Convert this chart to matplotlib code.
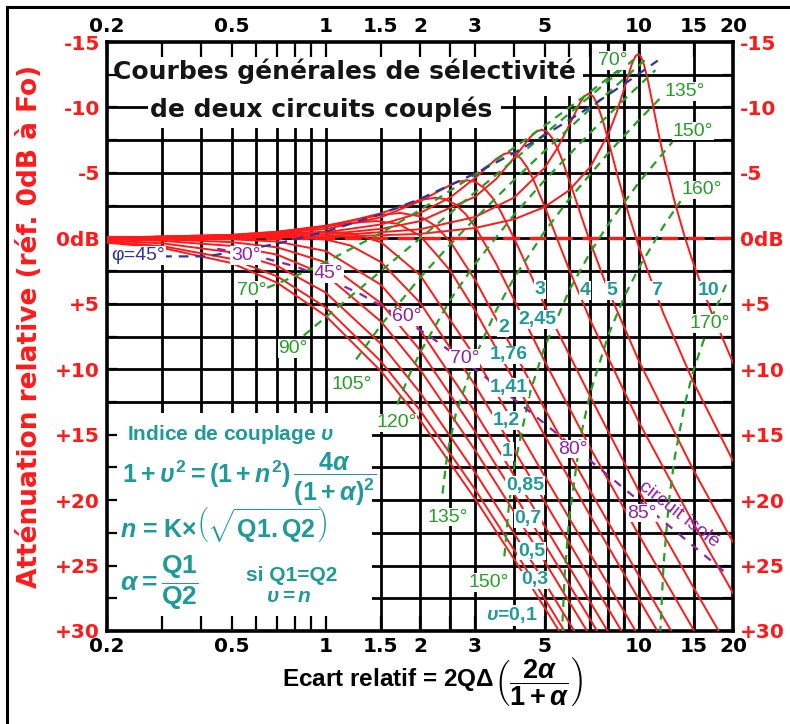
import matplotlib.pyplot as plt
import matplotlib.patches as patches
from matplotlib.lines import Line2D
from matplotlib.ticker import FixedLocator, FixedFormatter, NullFormatter

plt.rcParams['font.family'] = ['DejaVu Sans']
plt.rcParams['font.weight'] = 'bold'
plt.rcParams['lines.scale_dashes'] = False
plt.rcParams['mathtext.fontset'] = 'custom'
plt.rcParams['mathtext.rm'] = 'Liberation Sans:bold'
plt.rcParams['mathtext.it'] = 'Liberation Sans:italic:bold'
plt.rcParams['mathtext.bf'] = 'Liberation Sans:bold'
plt.rcParams['mathtext.sf'] = 'Liberation Sans:bold'

# ---- red curves : coupling index (x = ecart relatif, attenuation in dB)
x_u01 = [0.2, 0.3, 0.5, 0.7, 1, 1.5, 2, 3, 4, 5, 6]
db_u01 = [0.33, 0.73, 1.89, 3.40, 5.93, 10.14, 13.88, 19.91, 24.52, 28.21, 31.27]
x_u03 = [0.2, 0.3, 0.5, 0.7, 1, 1.5, 2, 3, 4, 5, 6]
db_u03 = [0.26, 0.59, 1.57, 2.91, 5.28, 9.40, 13.14, 19.19, 23.82, 27.52, 30.6]
x_u05 = [0.2, 0.3, 0.5, 0.7, 1, 1.5, 2, 3, 4, 5, 6, 7]
db_u05 = [0.17, 0.38, 1.07, 2.11, 4.15, 8.06, 11.78, 17.89, 22.56, 26.28, 29.37, 32.0]
x_u07 = [0.2, 0.3, 0.5, 0.7, 1, 1.5, 2, 3, 4, 5, 6, 7]
db_u07 = [0.08, 0.19, 0.58, 1.25, 2.81, 6.35, 10.02, 16.19, 20.92, 24.68, 27.79, 30.4]
x_u085 = [0.2, 0.3, 0.5, 0.7, 1, 1.5, 2, 3, 4, 5, 6, 7, 8]
db_u085 = [0.04, 0.08, 0.29, 0.69, 1.83, 4.95, 8.54, 14.77, 19.56, 23.35, 26.48, 29.13, 31.44]
x_u1 = [0.2, 0.5, 0.7, 1, 1.5, 2, 3, 4, 5, 6, 7, 8, 9]
db_u1 = [0.0, 0.07, 0.25, 0.97, 3.55, 6.99, 13.27, 18.13, 21.97, 25.12, 27.80, 30.11, 32.15]
x_u12 = [0.2, 0.5, 0.7, 1, 1.2, 1.5, 2, 3, 4, 5, 6, 7, 9, 10]
db_u12 = [-0.02, -0.12, -0.14, 0.09, 0.55, 1.81, 4.91, 11.23, 16.19, 20.10, 23.29, 25.99, 30.38, 32.2]
x_u141 = [0.2, 0.5, 0.7, 1, 1.2, 1.5, 2, 3, 4, 5, 7, 10, 12]
db_u141 = [-0.04, -0.22, -0.37, -0.50, -0.39, 0.29, 2.80, 9.07, 14.17, 18.16, 24.13, 30.41, 33.6]
x_u176 = [0.2, 0.5, 0.7, 1, 1.2, 1.45, 1.7, 2, 2.5, 3, 4, 5, 7, 10, 12]
db_u176 = [-0.04, -0.26, -0.50, -0.92, -1.17, -1.32, -1.11, -0.21, 2.47, 5.53, 10.88, 15.05, 21.20, 27.57, 30.79]
x_u2 = [0.2, 0.5, 0.7, 1, 1.3, 1.5, 1.73, 2, 2.25, 2.5, 3, 4, 5, 7, 10, 13]
db_u2 = [-0.04, -0.26, -0.50, -0.97, -1.50, -1.79, -1.94, -1.68, -0.92, 0.26, 3.18, 8.69, 13.01, 19.31, 25.76, 30.42]
x_u245 = [0.2, 0.5, 0.7, 1, 1.5, 2, 2.24, 2.4, 2.6, 2.8, 3, 3.5, 4, 5, 7, 10, 15, 16]
db_u245 = [-0.04, -0.22, -0.43, -0.88, -1.91, -2.93, -3.10, -3.00, -2.58, -1.84, -0.89, 1.93, 4.71, 9.37, 16.02, 22.66, 29.95, 31.1]
x_u3 = [0.2, 0.5, 1, 1.5, 2, 2.5, 2.65, 2.83, 3.0, 3.2, 3.4, 3.6, 4, 4.5, 5, 7, 10, 15, 18]
db_u3 = [-0.03, -0.17, -0.71, -1.61, -2.84, -4.07, -4.32, -4.44, -4.32, -3.86, -3.13, -2.17, 0.0, 2.70, 5.12, 12.09, 19.29, 26.73, 30.0]
x_u4 = [0.2, 0.5, 1, 1.5, 2, 2.5, 3, 3.5, 3.7, 3.87, 4.05, 4.2, 4.4, 4.6, 5, 5.5, 6, 7, 10, 15, 20]
db_u4 = [-0.02, -0.11, -0.46, -1.06, -1.94, -3.13, -4.61, -6.06, -6.43, -6.55, -6.41, -6.10, -5.42, -4.52, -2.46, 0.11, 2.42, 6.26, 14.02, 21.84, 27.1]
x_u5 = [0.2, 0.5, 1, 1.5, 2, 3, 3.5, 4, 4.5, 4.7, 4.9, 5.1, 5.3, 5.5, 5.7, 6.2, 6.6, 7, 8, 10, 15, 20]
db_u5 = [-0.01, -0.08, -0.31, -0.72, -1.31, -3.18, -4.53, -6.16, -7.73, -8.14, -8.30, -8.13, -7.63, -6.87, -5.95, -3.40, -1.46, 0.30, 4.01, 9.35, 17.77, 23.21]
x_u7 = [0.2, 0.5, 1, 2, 3, 4, 5, 5.5, 6, 6.5, 6.7, 6.93, 7.15, 7.4, 7.7, 8, 8.5, 9, 10, 12, 15, 20]
db_u7 = [-0.01, -0.04, -0.17, -0.69, -1.63, -3.12, -5.38, -6.90, -8.66, -10.38, -10.85, -11.06, -10.85, -10.15, -8.88, -7.43, -5.04, -2.89, 0.64, 5.76, 11.07, 17.0]
x_u10 = [0.2, 1, 2, 3, 4, 5, 6, 7, 8, 8.5, 9, 9.5, 9.75, 9.95, 10.15, 10.4, 10.7, 11, 11.5, 12, 13, 14, 15, 17, 20]
db_u10 = [0.0, -0.09, -0.34, -0.79, -1.46, -2.39, -3.68, -5.46, -7.99, -9.62, -11.49, -13.31, -13.90, -14.07, -13.90, -13.24, -12.03, -10.62, -8.30, -6.24, -2.85, -0.17, 2.03, 5.54, 9.50]

u_labels = [r'$\upsilon$=0,1', '0,3', '0,5', '0,7', '0,85', '1', '1,2', '1,41', '1,76', '2',
            '2,45', '3', '4', '5', '7', '10']
u_label_x = [3.92, 4.66, 4.55, 4.43, 4.33, 3.81, 3.78, 3.85, 3.85, 3.69, 4.74, 4.83, 6.73, 8.19, 11.4, 16.7]
u_label_db = [28.8, 26.1, 23.9, 21.4, 18.9, 16.3, 13.9, 11.4, 8.9, 6.8, 6.2, 3.9, 4.0, 4.0, 4.0, 4.0]

# ---- green dashed curves : constant phase of the coupled pair
x_g70 = [0.65, 0.8, 1, 1.5, 2, 3, 4, 5, 6, 7, 8, 8.8]
db_g70 = [3.78, 2.88, 1.81, -0.40, -2.16, -4.87, -6.93, -8.60, -10.00, -11.20, -12.26, -13.02]
x_g90 = [0.85, 1, 1.5, 2, 3, 4, 5, 6, 7, 8, 9.6]
db_g90 = [7.43, 6.02, 2.50, 0.0, -3.52, -6.02, -7.96, -9.54, -10.88, -12.04, -13.63]
x_g105 = [1.25, 1.5, 2, 2.5, 3, 4, 5, 6, 7, 8, 10.5]
db_g105 = [9.25, 6.64, 3.01, 0.46, -1.51, -4.47, -6.67, -8.43, -9.89, -11.14, -13.65]
x_g120 = [1.69, 1.85, 2, 2.5, 3, 4, 5, 7, 9, 11.3]
db_g120 = [12.7, 10.43, 8.73, 4.69, 1.95, -1.81, -4.43, -8.07, -10.62, -12.85]
x_g135 = [2.36, 2.45, 2.6, 3, 3.5, 4, 5, 6, 8, 10, 12]
db_g135 = [19.5, 16.3, 13.47, 9.03, 5.51, 3.01, -0.51, -3.01, -6.53, -9.03, -10.97]
x_g150 = [3.72, 3.85, 4, 4.5, 5, 6, 7, 8, 10, 12.8]
db_g150 = [24.3, 20.31, 17.46, 11.73, 8.31, 3.96, 1.07, -1.09, -4.26, -7.36]
x_g160 = [5.65, 5.8, 6, 6.5, 7, 8, 9, 10, 12, 13.6]
db_g160 = [31.5, 25.63, 21.26, 15.29, 11.78, 7.36, 4.44, 2.26, -0.93, -2.84]
x_g170 = [11.7, 12, 12.5, 13, 14, 15, 17, 19]
db_g170 = [30.24, 24.91, 19.98, 16.86, 12.75, 9.97, 6.18, 3.55]

g_labels = ['70°', '90°', '105°', '120°', '135°', '150°', '170°', '70°', '135°', '150°', '160°']
g_label_x = [0.58, 0.787, 1.21, 1.68, 2.45, 3.32, 16.8, 8.23, 14.06, 14.9, 15.9]
g_label_db = [4.0, 8.4, 11.2, 14.1, 21.3, 26.3, 6.5, -13.6, -11.2, -8.2, -3.7]

# ---- blue dashed curve : phi = 45 deg for the coupled pair
x_phi45 = [0.3, 0.414, 0.5, 0.7, 1, 1.5, 2, 3, 4, 5, 7, 9, 11.5]
db_phi45 = [1.38, 1.38, 1.07, 0.40, -0.51, -1.85, -3.01, -4.95, -6.53, -7.87, -10.05, -11.80, -13.58]

# ---- purple dashed curve : single circuit ("circuit isole")
x_iso = [0.45, 0.6, 0.8, 1, 1.3, 1.7, 2.2, 3, 4, 5, 6.5, 8, 10, 12.5, 15, 19.5]
db_iso = [0.80, 1.34, 2.15, 3.01, 4.30, 5.90, 7.66, 10.0, 12.30, 14.15, 16.36, 18.13, 20.04, 21.97, 23.54, 25.81]
iso_labels = ['30°', '45°', '60°', '70°', '80°', '85°']
iso_label_x = [0.555, 1.02, 1.81, 2.78, 6.18, 10.2]
iso_label_db = [1.3, 2.7, 6.0, 9.2, 16.1, 21.0]

# ---- axes ticks
x_ticks = [0.2, 0.5, 1, 1.5, 2, 3, 5, 10, 15, 20]
x_ticklabels = ['0.2', '0.5', '1', '1.5', '2', '3', '5', '10', '15', '20']
x_minor = [0.3, 0.4, 0.6, 0.7, 0.8, 0.9, 2.5, 4, 6, 7, 8, 9]
y_ticks = [-15, -10, -5, 0, 5, 10, 15, 20, 25, 30]
y_ticklabels = ['-15', '-10', '-5', '0dB', '+5', '+10', '+15', '+20', '+25', '+30']
y_minor = [-12.5, -7.5, -2.5, 2.5, 7.5, 12.5, 17.5, 22.5, 27.5]

RED = '#ff1a1a'
TEAL = '#1f9a9a'
GREEN = '#25a025'
PURPLE = '#9022a8'
BLUE = '#33339a'

fig = plt.figure(figsize=(7.9, 7.24), dpi=100)
ax = fig.add_axes([107 / 790, 1 - 631 / 724, 626 / 790, 589 / 724])
ax.set_xscale('log')
ax.set_xlim(0.2, 20)
ax.set_ylim(30, -15)
ax.set_axisbelow(False)

# grid drawn by hand so the white boxes can hide it
for gx in x_ticks[1:-1] + x_minor:
    ax.axvline(gx, color='black', lw=2.0, zorder=1)
for gy in y_ticks[1:-1] + y_minor:
    ax.axhline(gy, color='black', lw=2.0, zorder=1)

# white areas behind the title and the formula box
for (bx, by, bw, bh) in [(0, 0.908, 0.760, 0.092), (0.065, 0.854, 0.565, 0.056), (0, 0, 0.423, 0.370)]:
    ax.add_patch(patches.Rectangle((bx, by), bw, bh, transform=ax.transAxes,
                                   facecolor='white', edgecolor='none', zorder=1.5))

red_curves = [(x_u01, db_u01), (x_u03, db_u03), (x_u05, db_u05), (x_u07, db_u07),
              (x_u085, db_u085), (x_u1, db_u1), (x_u12, db_u12), (x_u141, db_u141),
              (x_u176, db_u176), (x_u2, db_u2), (x_u245, db_u245), (x_u3, db_u3),
              (x_u4, db_u4), (x_u5, db_u5), (x_u7, db_u7), (x_u10, db_u10)]
for xs, ys in red_curves:
    ax.plot(xs, ys, color=RED, lw=1.4, zorder=3)

ax.axhline(0, color=RED, lw=2.4, dashes=(12, 7), zorder=3.1)
ax.plot([0.2, 0.24], [0, 0], color=RED, lw=3, zorder=3.1)

green_curves = [(x_g70, db_g70), (x_g90, db_g90), (x_g105, db_g105), (x_g120, db_g120),
                (x_g135, db_g135), (x_g150, db_g150), (x_g160, db_g160), (x_g170, db_g170)]
for xs, ys in green_curves:
    ax.plot(xs, ys, color=GREEN, lw=1.6, dashes=(6, 4.5), zorder=3.2)

ax.plot(x_phi45, db_phi45, color=BLUE, lw=1.6, dashes=(7, 5), zorder=3.3)
ax.plot(x_iso, db_iso, color=PURPLE, lw=1.6, dashes=(6, 6), zorder=3.3)

box = dict(facecolor='white', edgecolor='none', pad=0.6)
lbl_font = ['Liberation Sans', 'DejaVu Sans']
for t, lx, ly in zip(u_labels, u_label_x, u_label_db):
    ax.text(lx, ly, t, color=TEAL, fontsize=14, fontweight='bold', family=lbl_font,
            ha='center', va='center', bbox=box, zorder=5)
for t, lx, ly in zip(g_labels, g_label_x, g_label_db):
    ax.text(lx, ly, t, color=GREEN, fontsize=14, fontweight='normal', family=lbl_font,
            ha='center', va='center', bbox=box, zorder=5)
for t, lx, ly in zip(iso_labels, iso_label_x, iso_label_db):
    ax.text(lx, ly, t, color=PURPLE, fontsize=14, fontweight='normal', family=lbl_font,
            ha='center', va='center', bbox=box, zorder=5)
ax.text(0.252, 1.3, 'φ=45°', color=BLUE, fontsize=14, fontweight='normal', family=lbl_font,
        ha='center', va='center', bbox=box, zorder=5)
ax.text(13.4, 21.1, 'circuit isolé', color=PURPLE, fontsize=14, fontweight='normal',
        family=lbl_font, ha='center', va='center', rotation=-38, rotation_mode='anchor', zorder=5)

# title
ax.text(0.0096, 0.937, 'Courbes générales de sélectivité', transform=ax.transAxes,
        fontsize=18, fontweight='bold', color='#151515', ha='left', va='baseline', zorder=4)
ax.text(0.0687, 0.8727, 'de deux circuits couplés', transform=ax.transAxes,
        fontsize=18, fontweight='bold', color='#151515', ha='left', va='baseline', zorder=4)

# formula box
tk = dict(transform=ax.transAxes, color=TEAL, fontweight='bold', family=lbl_font, zorder=4)
ax.text(0.032, 0.324, r'Indice de couplage $\upsilon$', fontsize=15, ha='left', va='baseline', **tk)
ax.text(0.024, 0.251, r'$1+\upsilon^2 = (1+n^2)\,\dfrac{4\alpha}{(1+\alpha)^2}$',
        fontsize=18, ha='left', va='baseline', **tk)
ax.text(0.021, 0.158, r'$n$ = K×$\left(\sqrt{\mathrm{Q1.Q2}}\right)$', fontsize=18,
        ha='left', va='baseline', **tk)
ax.text(0.021, 0.0815, r'$\alpha = \dfrac{\mathrm{Q1}}{\mathrm{Q2}}$', fontsize=19,
        ha='left', va='center', **tk)
ax.text(0.295, 0.094, 'si Q1=Q2', fontsize=15, ha='center', va='center', **tk)
ax.text(0.29, 0.059, r'$\upsilon = n$', fontsize=15, ha='center', va='center', **tk)

# ticks
ax.xaxis.set_major_locator(FixedLocator(x_ticks))
ax.xaxis.set_major_formatter(FixedFormatter(x_ticklabels))
ax.xaxis.set_minor_locator(FixedLocator(x_minor))
ax.xaxis.set_minor_formatter(NullFormatter())
ax.yaxis.set_major_locator(FixedLocator(y_ticks))
ax.yaxis.set_major_formatter(FixedFormatter(y_ticklabels))
ax.yaxis.set_minor_locator(FixedLocator(y_minor))
ax.tick_params(axis='x', which='both', direction='in', length=11, width=1.6,
               top=True, bottom=True, labeltop=True, labelbottom=True, labelsize=14.5, pad=4)
ax.tick_params(axis='y', which='both', direction='in', length=7, width=1.6,
               left=True, right=True, labelleft=True, labelright=True,
               labelsize=14.5, labelcolor=RED, pad=5)
for sp in ax.spines.values():
    sp.set_linewidth(2.6)

fig.text(30 / 790, 1 - 326 / 724, 'Atténuation relative (réf. 0dB à Fo)', rotation=90,
         color=RED, fontsize=19, fontweight='bold', ha='center', va='center')
fig.text(282 / 790, 1 - 686 / 724, r'Ecart relatif = 2Q$\Delta$',
         color='black', fontsize=17.5, fontweight='bold', family=lbl_font,
         ha='left', va='baseline')
fig.text(494 / 790, 1 - 681 / 724, r'$\left(\dfrac{2\alpha}{1+\alpha}\right)$',
         color='black', fontsize=19.5, fontweight='bold', family=lbl_font,
         ha='left', va='center')

# outer frame of the picture
fig.add_artist(Line2D([7 / 790, 1], [1 - 7 / 724, 1 - 7 / 724], transform=fig.transFigure, color='black', lw=2.2))
fig.add_artist(Line2D([7 / 790, 7 / 790], [0, 1 - 7 / 724], transform=fig.transFigure, color='black', lw=2.2))

fig.savefig('out.png', dpi=100)
